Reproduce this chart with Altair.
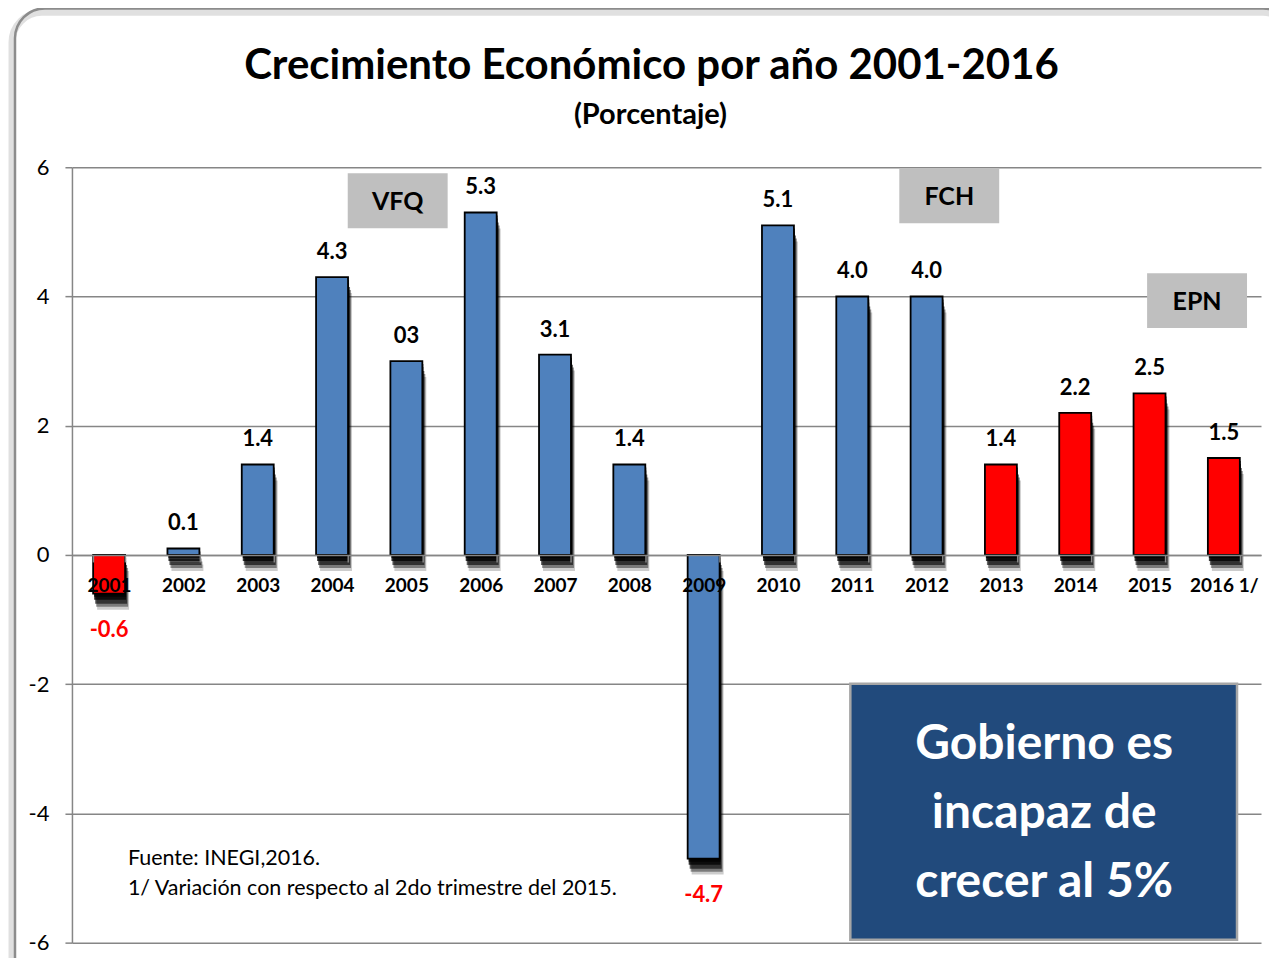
import altair as alt
import pandas as pd

# ---------------- data ----------------
years = ["2001", "2002", "2003", "2004", "2005", "2006", "2007", "2008",
         "2009", "2010", "2011", "2012", "2013", "2014", "2015", "2016 1/"]
values = [-0.6, 0.1, 1.4, 4.3, 3.0, 5.3, 3.1, 1.4,
          -4.7, 5.1, 4.0, 4.0, 1.4, 2.2, 2.5, 1.5]
labels = ["-0.6", "0.1", "1.4", "4.3", "03", "5.3", "3.1", "1.4",
          "-4.7", "5.1", "4.0", "4.0", "1.4", "2.2", "2.5", "1.5"]
bar_group = ["r", "b", "b", "b", "b", "b", "b", "b",
             "b", "b", "b", "b", "r", "r", "r", "r"]
y_ticks = [-6, -4, -2, 0, 2, 4, 6]

title_text = "Crecimiento Económico por año 2001-2016"
subtitle_text = "(Porcentaje)"
period_names = ["VFQ", "FCH", "EPN"]
box_lines = ["Gobierno es", "incapaz de", "crecer al 5%"]
note_lines = ["Fuente: INEGI,2016.", "1/ Variación con respecto al 2do trimestre del 2015."]

FONT = "Lato"
BLUE = "#4F81BD"
RED = "#FF0000"
GRID = "#868686"

df = pd.DataFrame({"year": years, "value": values, "label": labels, "grp": bar_group})
df["zero"] = 0.0

W, H = 1190, 776

xenc = alt.X("year:N", sort=years,
             scale=alt.Scale(paddingInner=0.57, paddingOuter=0.285),
             axis=alt.Axis(orient="bottom", offset=-388, title=None, labelAngle=0,
                           labelFont=FONT, labelFontSize=19, labelFontWeight="bold",
                           labelColor="black", domainColor=GRID, domainWidth=1.5,
                           tickColor=GRID, tickWidth=1.5, tickSize=7, tickBand="extent",
                           labelPadding=15, grid=False, zindex=1))
yscale = alt.Scale(domain=[-6, 6], nice=False, zero=False)
yenc = alt.Y("value:Q", scale=yscale,
             axis=alt.Axis(values=y_ticks, title=None, grid=True, gridColor=GRID,
                           gridWidth=1.5, domainColor=GRID, domainWidth=1.5,
                           tickColor=GRID, tickWidth=1.5, tickSize=7,
                           labelFont=FONT, labelFontSize=22, labelColor="black",
                           labelPadding=16, labelExpr="'' + datum.value"))

base = alt.Chart(df)

one = pd.DataFrame({"k": [0]})

# outer rounded frame (annotation)
frame_shadow = alt.Chart(one).mark_rect(
    fillOpacity=0, stroke="#000000", strokeOpacity=0.12, strokeWidth=7,
    cornerRadius=30, clip=False
).encode(x=alt.value(-60), x2=alt.value(1222), y=alt.value(-155), y2=alt.value(840))
frame = alt.Chart(one).mark_rect(
    fillOpacity=0, stroke="#8C8C8C", strokeWidth=2.5, cornerRadius=30, clip=False
).encode(x=alt.value(-57), x2=alt.value(1222), y=alt.value(-159), y2=alt.value(840))

# soft drop shadow under the bars (layered translucent copies)
shadow_layers = []
for off, op, shrink in [(16, 0.2, 3), (13, 0.4, 2), (10, 0.6, 1), (6, 0.75, 0), (3, 0.75, 0)]:
    shadow_layers.append(base.mark_bar(
        color="black", opacity=op, yOffset=off, y2Offset=off,
        xOffset=1 + shrink, x2Offset=1 - shrink
    ).encode(x=xenc, y=yenc, y2="zero:Q"))

bars = base.mark_bar(stroke="black", strokeWidth=1.8).encode(
    x=xenc, y=yenc, y2="zero:Q",
    color=alt.Color("grp:N", scale=alt.Scale(domain=["b", "r"], range=[BLUE, RED]),
                    legend=None))

pos_labels = base.transform_filter("datum.value >= 0").mark_text(
    font=FONT, fontSize=22, fontWeight="bold", color="black",
    baseline="alphabetic", dy=-18).encode(x=xenc, y=yenc, text="label:N")
neg_labels = base.transform_filter("datum.value < 0").mark_text(
    font=FONT, fontSize=22, fontWeight="bold", color=RED,
    baseline="top", dy=26).encode(x=xenc, y=yenc, text="label:N")

title = alt.Chart(one).mark_text(
    font=FONT, fontSize=42, fontWeight="bold", color="black",
    align="center", baseline="alphabetic", clip=False
).encode(x=alt.value(580), y=alt.value(-88), text=alt.value(title_text))
subtitle = alt.Chart(one).mark_text(
    font=FONT, fontSize=29, fontWeight="bold", color="black",
    align="center", baseline="alphabetic", clip=False
).encode(x=alt.value(579), y=alt.value(-43), text=alt.value(subtitle_text))

# period boxes
box_pos = [(276, 376, 6, 61), (828, 928, 1, 56), (1076, 1176, 106, 161)]
period_layers = []
for name, (x1, x2, y1, y2) in zip(period_names, box_pos):
    period_layers.append(alt.Chart(one).mark_rect(color="#BFBFBF").encode(
        x=alt.value(x1), x2=alt.value(x2), y=alt.value(y1), y2=alt.value(y2)))
    period_layers.append(alt.Chart(one).mark_text(
        font=FONT, fontSize=25, fontWeight="bold", color="black",
        align="center", baseline="middle").encode(
        x=alt.value((x1 + x2) / 2), y=alt.value((y1 + y2) / 2 + 1), text=alt.value(name)))

blue_box = alt.Chart(one).mark_rect(
    color="#214A7C", stroke="#A6A6A6", strokeWidth=2.5
).encode(x=alt.value(779), x2=alt.value(1166), y=alt.value(517), y2=alt.value(773))
blue_text = alt.Chart(one).mark_text(
    font=FONT, fontSize=48, fontWeight="bold", color="white",
    align="center", baseline="middle", lineHeight=69
).encode(x=alt.value(973), y=alt.value(578), text=alt.value(box_lines))

notes = alt.Chart(one).mark_text(
    font=FONT, fontSize=21.5, color="black", align="left", baseline="alphabetic",
    lineHeight=30
).encode(x=alt.value(56), y=alt.value(698), text=alt.value(note_lines))

chart = alt.layer(
    frame_shadow, frame, *shadow_layers, bars, pos_labels, neg_labels,
    *period_layers, blue_box, blue_text, notes, title, subtitle
).properties(
    width=W, height=H,
    autosize=alt.AutoSizeParams(type="none"),
    padding={"left": 64, "top": 159, "right": 8, "bottom": 15},
    background="white"
).configure_view(stroke=None)

chart.save("out.html", embed_options={"renderer": "svg", "actions": False})
